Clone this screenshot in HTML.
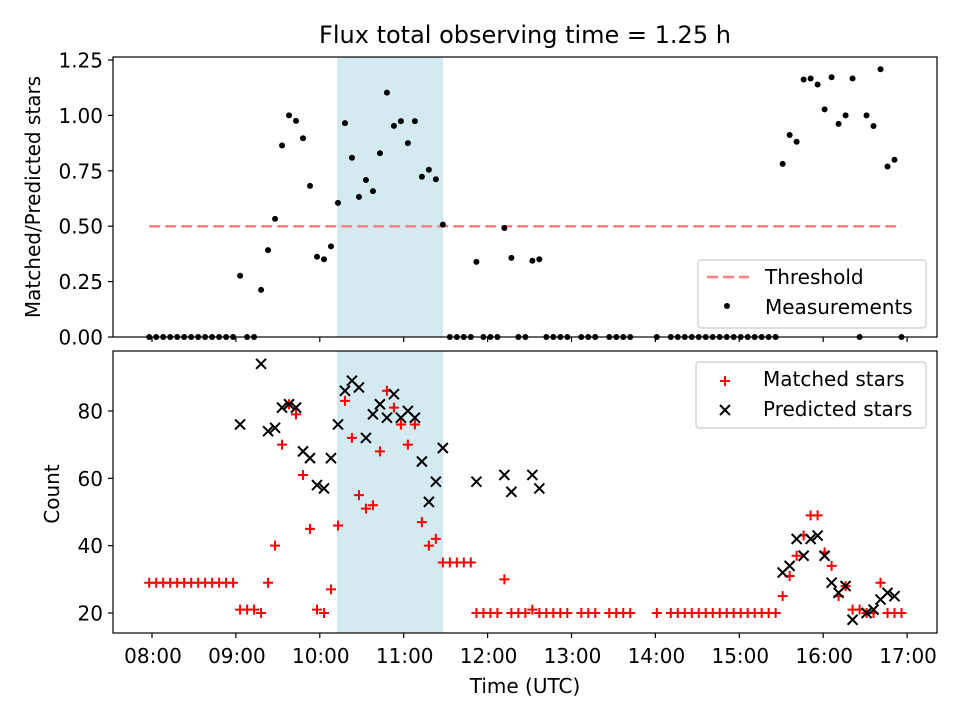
<!DOCTYPE html>
<html><head><meta charset="utf-8"><style>
html,body{margin:0;padding:0;background:#fff;}
svg{display:block;font-family:"DejaVu Sans","Liberation Sans",sans-serif;}
</style></head><body>
<svg id="chart" width="960" height="720" viewBox="0 0 960 720"></svg>
<script>
// ---- data (times in minutes after 08:00 UTC) ----
const times = [-2,3,8,13,18,23,28,33,38,43,48,53,58,63,68,73,78,83,88,93,98,103,108,113,118,123,128,133,138,143,148,153,158,163,168,173,178,183,188,193,198,203,208,213,218,223,228,
232,237,242,247,252,257,262,267,272,277,282,287,292,297,307,312,317,327,332,337,342,
361,371,376,381,386,391,396,401,406,411,416,421,426,431,436,441,446,
451,456,461,466,471,476,481,486,491,496,501,506,511,516,521,526,531,536];
const matched = [29,29,29,29,29,29,29,29,29,29,29,29,29,21,21,21,20,29,40,70,82,79,61,45,21,20,27,46,83,72,55,51,52,68,86,81,76,70,76,47,40,42,35,35,35,35,35,
20,20,20,20,30,20,20,20,21,20,20,20,20,20,20,20,20,20,20,20,20,
20,20,20,20,20,20,20,20,20,20,20,20,20,20,20,20,20,
25,31,37,43,49,49,38,34,25,28,21,21,20,20,29,20,20,20];
const predicted = [null,null,null,null,null,null,null,null,null,null,null,null,null,76,null,null,94,74,75,81,82,81,68,66,58,57,66,76,86,89,87,72,79,82,78,85,78,80,78,65,53,59,69,null,null,null,null,
59,null,null,null,61,56,null,null,61,57,null,null,null,null,null,null,null,null,null,null,null,
null,null,null,null,null,null,null,null,null,null,null,null,null,null,null,null,null,
32,34,42,37,42,43,37,29,26,28,18,null,20,21,24,26,25,null];
const threshold = 0.5;
const shadeStart = 133, shadeEnd = 207.5;
const xTickLabels = ["08:00","09:00","10:00","11:00","12:00","13:00","14:00","15:00","16:00","17:00"];
const topTicks = [0,0.25,0.5,0.75,1.0,1.25];
const topTickLabels = ["0.00","0.25","0.50","0.75","1.00","1.25"];
const botTicks = [20,40,60,80];

const NS="http://www.w3.org/2000/svg";
const svg=document.getElementById('chart');
function mk(tag,attrs,parent){const e=document.createElementNS(NS,tag);for(const k in attrs)e.setAttribute(k,attrs[k]);(parent||svg).appendChild(e);return e;}

const L=113,R=937,T1=57,B1=337,T2=351,B2=633;
const FS=20;
const xs = m => 152 + m/60*83.9;
const y1 = v => 337 - v*221.6;
const y2 = v => 613 - (v-20)*3.367;

// shading
[[T1,B1,'shade-top'],[T2,B2,'shade-bottom']].forEach(([t,b,n])=>{
  const r=mk('rect',{x:xs(shadeStart),y:t,width:xs(shadeEnd)-xs(shadeStart),height:b-t,fill:'#d4eaf1',stroke:'#bcdde8','stroke-width':1});
  
  
});

// threshold line
const th=mk('line',{x1:xs(times[0]),x2:xs(times[times.length-1]),y1:y1(threshold),y2:y1(threshold),stroke:'#ff8080','stroke-width':2.5,'stroke-dasharray':'11 5'});



// ratio points
const gR=mk('g',{});


times.forEach((t,i)=>{
  const p=predicted[i];
  const r = p ? matched[i]/p : 0;
  const c=mk('circle',{cx:xs(t),cy:y1(r),r:3,fill:'#000'},gR);
  
  
});

// matched (+) and predicted (x)
const gM=mk('g',{stroke:'#ff0000','stroke-width':2});


const gP=mk('g',{stroke:'#000','stroke-width':2});


times.forEach((t,i)=>{
  const x=xs(t), y=y2(matched[i]);
  const pm=mk('path',{d:`M${x-5},${y}H${x+5}M${x},${y-5}V${y+5}`},gM);
  
  
});
times.forEach((t,i)=>{
  if(predicted[i]==null) return;
  const x=xs(t), y=y2(predicted[i]);
  const pp=mk('path',{d:`M${x-5},${y-5}L${x+5},${y+5}M${x-5},${y+5}L${x+5},${y-5}`},gP);
  
  
});

// axes frames
[[T1,B1,'top-axes-frame'],[T2,B2,'bottom-axes-frame']].forEach(([t,b,n])=>{
  const f=mk('rect',{x:L,y:t,width:R-L,height:b-t,fill:'none',stroke:'#000','stroke-width':1.2});
  
  
});

// x ticks
xTickLabels.forEach((lab,i)=>{
  const x=xs(i*60);
  mk('line',{x1:x,x2:x,y1:B1,y2:B1+5,stroke:'#000','stroke-width':1.2});
  mk('line',{x1:x,x2:x,y1:B2,y2:B2+5,stroke:'#000','stroke-width':1.2});
  const tx=mk('text',{x:x+1,y:663,'text-anchor':'middle','font-size':FS,fill:'#000'});
  tx.textContent=lab;
  
  
});
// y ticks top
topTicks.forEach((v,i)=>{
  const y=y1(v);
  mk('line',{x1:L-5,x2:L,y1:y,y2:y,stroke:'#000','stroke-width':1.2});
  const tx=mk('text',{x:L-10,y:y+7.5,'text-anchor':'end','font-size':FS,fill:'#000'});
  tx.textContent=topTickLabels[i];
  
  
});
botTicks.forEach(v=>{
  const y=y2(v);
  mk('line',{x1:L-5,x2:L,y1:y,y2:y,stroke:'#000','stroke-width':1.2});
  const tx=mk('text',{x:L-10,y:y+7.5,'text-anchor':'end','font-size':FS,fill:'#000'});
  tx.textContent=String(v);
  
  
});

// titles
function label(txt,attrs,name){const t=mk('text',attrs);t.textContent=txt;return t;}
label('Flux total observing time = 1.25 h',{x:525,y:43,'text-anchor':'middle','font-size':24,fill:'#000'},'chart-title');
label('Time (UTC)',{x:525,y:693,'text-anchor':'middle','font-size':FS,fill:'#000'},'x-axis-title');
label('Matched/Predicted stars',{x:0,y:0,'text-anchor':'middle','font-size':FS,fill:'#000',transform:'translate(40,197) rotate(-90)'},'top-y-axis-title');
label('Count',{x:0,y:0,'text-anchor':'middle','font-size':FS,fill:'#000',transform:'translate(59,494) rotate(-90)'},'bottom-y-axis-title');

// legends
const lg1=mk('g',{});


mk('rect',{x:698,y:260,width:228,height:68,rx:3,fill:'rgba(255,255,255,0.8)',stroke:'#ccc','stroke-width':1.2},lg1);
mk('line',{x1:707,x2:749,y1:277,y2:277,stroke:'#ff8080','stroke-width':2.5,'stroke-dasharray':'11 5'},lg1);
mk('circle',{cx:727,cy:306,r:3,fill:'#000'},lg1);
const t1=mk('text',{x:765,y:284,'font-size':FS,fill:'#000'},lg1);t1.textContent='Threshold';
const t2=mk('text',{x:765,y:314,'font-size':FS,fill:'#000'},lg1);t2.textContent='Measurements';

const lg2=mk('g',{});


mk('rect',{x:696,y:362,width:230,height:66,rx:3,fill:'rgba(255,255,255,0.8)',stroke:'#ccc','stroke-width':1.2},lg2);
mk('path',{d:'M720,381H730M725,376V386',stroke:'#ff0000','stroke-width':2},lg2);
mk('path',{d:'M720,405L730,415M720,415L730,405',stroke:'#000','stroke-width':2},lg2);
const t3=mk('text',{x:763,y:386,'font-size':FS,fill:'#000'},lg2);t3.textContent='Matched stars';
const t4=mk('text',{x:763,y:416,'font-size':FS,fill:'#000'},lg2);t4.textContent='Predicted stars';
</script>
</body></html>
